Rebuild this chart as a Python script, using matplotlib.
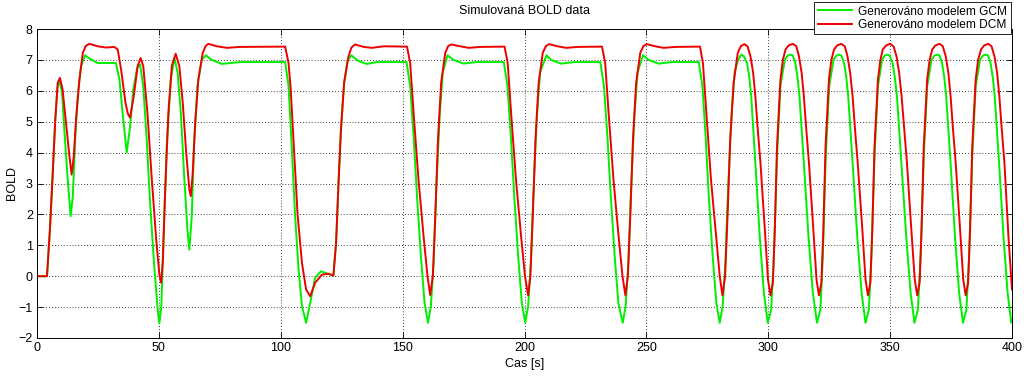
import matplotlib
matplotlib.use('Agg')
import matplotlib.pyplot as plt

# GCM model (green) - time [s], BOLD
t_gcm = [0, 4.1, 5.3, 6.4, 7.5, 8.4, 9.2, 10.3, 11.2, 12.6, 13.8, 14.7, 15.6, 16.7, 18.1, 19.7,
         22.2, 24.9, 32.4, 33.8, 35.4, 36.8, 38.2, 39.5, 41.1, 42.3, 43.6, 45.0, 46.4, 48.0,
         49.4, 50.2, 51.0, 51.8, 53.2, 54.9, 56.4, 57.7, 59.0, 60.3, 61.7, 62.5, 63.5, 64.4,
         65.8, 67.6, 69.3, 71.7, 75.8, 83.3, 101.8, 103.2, 104.5, 105.9, 107.3, 108.7, 110.4,
         112.1, 114.1, 116.5, 118.9, 121.6, 122.7, 123.7, 124.7, 126.0, 127.3, 128.9, 131.9,
         135.3, 139.4, 151.6, 153.1, 154.5, 155.9, 157.5, 159.0, 160.4, 161.6, 162.7, 163.8,
         165.2, 166.5, 168.4, 170.9, 175.0, 180.4,
         191.5, 193.0, 194.4, 195.8, 197.4, 198.9, 200.3, 201.5, 202.6, 203.7, 205.1, 206.4,
         209.0, 210.9, 215.0, 220.4,
         231.1, 232.6, 234.0, 235.4, 237.0, 238.5, 240.3, 241.5, 242.6, 243.7, 245.1, 246.4,
         248.6, 250.9, 255.0, 260.4,
         271.5, 273.0, 274.3, 275.6, 277.2, 278.7, 280.1, 281.3, 282.4, 283.5, 284.9, 286.2,
         287.6, 288.9, 290.0, 291.3, 292.2, 293.0, 294.7, 296.5, 298.2, 299.8, 301.2, 302.3,
         303.6, 305.0, 306.8, 308.0, 309.1, 310.1, 311.1, 312.0, 312.8, 314.6, 316.5, 318.3,
         320.0, 321.4, 322.4, 323.6, 325.0, 326.8, 328.0, 329.0, 330.0, 331.1, 332.0, 332.8,
         334.6, 336.5, 338.3, 339.9, 341.3, 342.3, 343.6, 345.0, 346.7, 347.8, 348.8, 349.8,
         351.0, 351.9, 352.8, 354.6, 356.6, 358.4, 360.0, 361.4, 362.5, 363.8, 365.2, 367.0,
         368.2, 369.3, 370.3, 371.3, 372.2, 373.0, 374.8, 376.6, 378.3, 379.9, 381.3, 382.4,
         383.7, 385.1, 386.9, 388.1, 389.2, 390.2, 391.2, 392.1, 392.9, 394.7, 396.5, 398.2,
         399.7, 400.0]
bold_gcm = [0, 0, 1.51, 3.24, 5.07, 6.10, 6.35, 5.93, 4.75, 3.13, 1.94, 2.59, 4.32, 5.83, 6.80, 7.15,
            7.01, 6.90, 6.90, 6.37, 5.07, 4.00, 4.85, 6.04, 6.74, 6.85, 6.15, 4.42, 2.37, 0.43,
            -0.97, -1.53, -0.97, 0.97, 4.20, 6.37, 7.07, 6.58, 5.29, 3.35, 1.51, 0.86, 1.94, 4.20,
            6.15, 7.01, 7.15, 7.00, 6.87, 6.93, 6.93, 6.15, 4.20, 1.94, 0.22, -0.97, -1.51,
            -0.86, -0.05, 0.16, 0.09, 0.02, 1.08, 3.02, 4.75, 6.26, 6.95, 7.15, 6.96,
            6.87, 6.93, 6.93, 6.15, 4.53, 2.59, 0.65, -0.86, -1.51, -0.97, 0.43, 2.80,
            5.20, 6.60, 7.15, 7.00, 6.88, 6.93,
            6.93, 6.15, 4.53, 2.59, 0.65, -0.86, -1.51, -0.97, 0.43, 2.80, 5.20, 6.60,
            7.15, 7.00, 6.88, 6.93,
            6.93, 6.15, 4.53, 2.59, 0.65, -0.86, -1.51, -0.97, 0.43, 2.80, 5.20, 6.60,
            7.15, 7.00, 6.88, 6.93,
            6.93, 6.15, 4.53, 2.59, 0.65, -0.86, -1.51, -0.97, 0.43, 2.80, 5.20, 6.60,
            7.00, 7.17, 7.12, 6.90, 6.45, 5.83, 3.67, 1.29, -0.54, -1.51, -1.08, 0.65,
            3.88, 6.15, 7.01, 7.14, 7.17, 7.14, 6.90, 6.45, 5.83, 3.67, 1.29, -0.54,
            -1.51, -1.08, 0.65, 3.88, 6.15, 7.01, 7.14, 7.17, 7.14, 6.90, 6.45, 5.83,
            3.67, 1.29, -0.54, -1.51, -1.08, 0.65, 3.88, 6.15, 7.01, 7.14, 7.17, 7.14,
            6.90, 6.45, 5.83, 3.67, 1.29, -0.54, -1.51, -1.08, 0.65, 3.88, 6.15, 7.01,
            7.14, 7.17, 7.14, 6.90, 6.45, 5.83, 3.67, 1.29, -0.54, -1.51, -1.08, 0.65,
            3.88, 6.15, 7.01, 7.14, 7.17, 7.14, 6.90, 6.45, 5.83, 3.67, 1.29, -0.54,
            -1.50, -1.45]

# DCM model (red)
t_dcm = [0, 4.1, 5.3, 6.4, 7.5, 8.5, 9.4, 10.5, 11.9, 13.3, 14.2, 15.1, 16.0, 17.4, 18.8, 20.0,
         21.5, 24.9, 28.3, 31.7, 33.1, 34.5, 36.3, 37.3, 38.2, 39.7, 41.3, 42.5, 43.6, 45.3,
         47.1, 48.9, 50.2, 50.9, 51.6, 52.5, 53.9, 55.3, 56.9, 58.4, 59.8, 61.2, 62.5, 63.1,
         63.9, 64.9, 66.2, 68.0, 69.2, 70.3, 73.8, 77.9, 83.3, 101.8, 103.2, 104.1, 105.5, 106.9,
         108.7, 110.4, 112.1, 114.1, 116.9, 119.6, 121.6, 122.7, 123.7, 124.7, 126.0, 127.8,
         129.0, 130.5, 134.0, 137.4, 142.2, 151.8, 153.1, 154.5, 156.5, 158.6, 160.2, 161.3,
         162.4, 163.4, 164.5, 165.8, 167.5, 168.7, 170.0, 173.6, 177.1, 181.9,
         191.8, 193.1, 194.5, 196.5, 198.6, 200.2, 201.5, 202.4, 203.4, 204.5, 205.8, 207.5,
         208.8, 210.1, 213.6, 217.1, 221.9,
         231.8, 233.1, 234.5, 236.5, 238.6, 240.2, 241.4, 242.4, 243.4, 244.5, 245.8, 247.5,
         248.8, 250.2, 253.6, 257.1, 261.9,
         272.0, 273.2, 274.6, 276.5, 278.6, 280.1, 281.2, 282.3, 283.3, 284.4, 285.8, 287.5,
         288.8, 290.2, 291.5, 292.7, 293.8, 294.7, 295.7, 296.8, 298.6, 299.9, 300.9, 301.9,
         302.7, 303.6, 305.0, 306.0, 307.1, 308.4, 310.1, 311.5, 312.6, 313.7, 314.6, 315.6,
         316.7, 318.5, 319.8, 320.8, 321.8, 322.6, 323.5, 324.9, 325.9, 327.0, 328.3, 330.0,
         331.4, 332.5, 333.6, 334.6, 335.6, 336.7, 338.6, 339.9, 340.9, 341.9, 342.7, 343.6,
         345.0, 346.0, 347.0, 348.4, 350.0, 351.4, 352.6, 353.7, 354.7, 355.8, 356.9, 358.7,
         360.1, 361.1, 362.1, 362.9, 363.8, 365.2, 366.2, 367.3, 368.6, 370.3, 371.6, 372.8,
         373.9, 374.8, 375.8, 376.9, 378.7, 380.0, 381.0, 382.0, 382.8, 383.7, 385.1, 386.1,
         387.3, 388.6, 390.3, 391.6, 392.8, 393.9, 394.8, 395.8, 396.9, 398.6, 400.0]
bold_dcm = [0, 0, 1.51, 3.24, 5.07, 6.26, 6.42, 6.04, 4.96, 3.88, 3.29, 3.88, 5.07, 6.37, 7.23, 7.45,
            7.52, 7.44, 7.40, 7.42, 7.34, 6.69, 5.61, 5.25, 5.13, 5.83, 6.80, 7.06, 6.80, 5.29,
            3.13, 1.19, 0.05, -0.21, 0.43, 2.59, 5.29, 6.80, 7.20, 6.80, 5.61, 4.00, 2.81, 2.59,
            3.35, 4.96, 6.37, 7.23, 7.45, 7.52, 7.44, 7.39, 7.42, 7.43, 6.90, 6.04, 4.00, 2.00,
            0.43, -0.43, -0.65, -0.21, 0.05, 0.08, 0.02, 1.08, 3.02, 4.75, 6.26, 7.12,
            7.40, 7.50, 7.42, 7.39, 7.44, 7.43, 6.90, 5.29, 3.13, 1.29, 0.00, -0.61,
            0.00, 1.94, 4.42, 6.26, 7.23, 7.45, 7.50, 7.44, 7.39, 7.42,
            7.43, 6.90, 5.29, 3.13, 1.29, 0.00, -0.62, 0.00, 1.94, 4.42, 6.26, 7.23,
            7.45, 7.51, 7.44, 7.39, 7.42,
            7.43, 6.90, 5.29, 3.13, 1.29, 0.00, -0.62, 0.00, 1.94, 4.42, 6.26, 7.23,
            7.45, 7.51, 7.44, 7.39, 7.42,
            7.43, 6.90, 5.29, 3.13, 1.29, 0.00, -0.62, 0.00, 1.94, 4.42, 6.26, 7.23,
            7.45, 7.51, 7.44, 7.12, 6.58, 5.83, 4.75, 3.67, 1.51, -0.11, -0.62, -0.21,
            1.51, 4.20, 6.37, 7.00, 7.34, 7.47, 7.52, 7.44, 7.12, 6.58, 5.83, 4.75,
            3.67, 1.51, -0.11, -0.62, -0.21, 1.51, 4.20, 6.37, 7.00, 7.34, 7.47, 7.52,
            7.44, 7.12, 6.58, 5.83, 4.75, 3.67, 1.51, -0.11, -0.62, -0.21, 1.51, 4.20,
            6.37, 7.00, 7.34, 7.47, 7.52, 7.44, 7.12, 6.58, 5.83, 4.75, 3.67, 1.51,
            -0.11, -0.62, -0.21, 1.51, 4.20, 6.37, 7.00, 7.34, 7.47, 7.52, 7.44, 7.12,
            6.58, 5.83, 4.75, 3.67, 1.51, -0.11, -0.62, -0.21, 1.51, 4.20, 6.37, 7.00,
            7.34, 7.47, 7.52, 7.44, 7.12, 6.58, 5.83, 4.75, 3.67, 1.20, -0.43]

labels = ['Generováno modelem GCM', 'Generováno modelem DCM']
x_ticks = [0, 50, 100, 150, 200, 250, 300, 350, 400]
y_ticks = [-2, -1, 0, 1, 2, 3, 4, 5, 6, 7, 8]

plt.rcParams['font.family'] = ['Liberation Sans', 'DejaVu Sans']
plt.rcParams['font.size'] = 9

fig = plt.figure(figsize=(10.24, 3.8), dpi=100)
ax = fig.add_axes([37/1024, 1 - 338/380, (1012 - 37)/1024, (338 - 29)/380])

ax.plot(t_gcm, bold_gcm, color='#00ee00', lw=1.4, label=labels[0])
ax.plot(t_dcm, bold_dcm, color='#ee0000', lw=1.4, label=labels[1])

ax.set_xlim(0, 400)
ax.set_ylim(-2, 8)
ax.set_xticks(x_ticks)
ax.set_yticks(y_ticks)
ax.grid(True, color='black', linestyle=(0, (1, 2.5)), linewidth=0.6)
ax.tick_params(direction='in', top=True, right=True, length=4, width=0.6, labelsize=9, pad=3)
for s in ax.spines.values():
    s.set_linewidth(0.7)

ax.set_title('Simulovaná BOLD data', fontsize=9, pad=11)
ax.set_xlabel('Cas [s]', fontsize=9, labelpad=3)
ax.set_ylabel('BOLD', fontsize=9)
ax.yaxis.set_label_coords(-19/975, 0.5)

leg = fig.legend(loc='upper right', bbox_to_anchor=(1011/1024, 1 - 2/380), fontsize=8.6,
                 fancybox=False, framealpha=1, edgecolor='black', borderpad=0.3,
                 handlelength=2.9, handletextpad=0.5, labelspacing=0.1, borderaxespad=0)
leg.get_frame().set_linewidth(0.6)

fig.savefig('out.png', dpi=100)
